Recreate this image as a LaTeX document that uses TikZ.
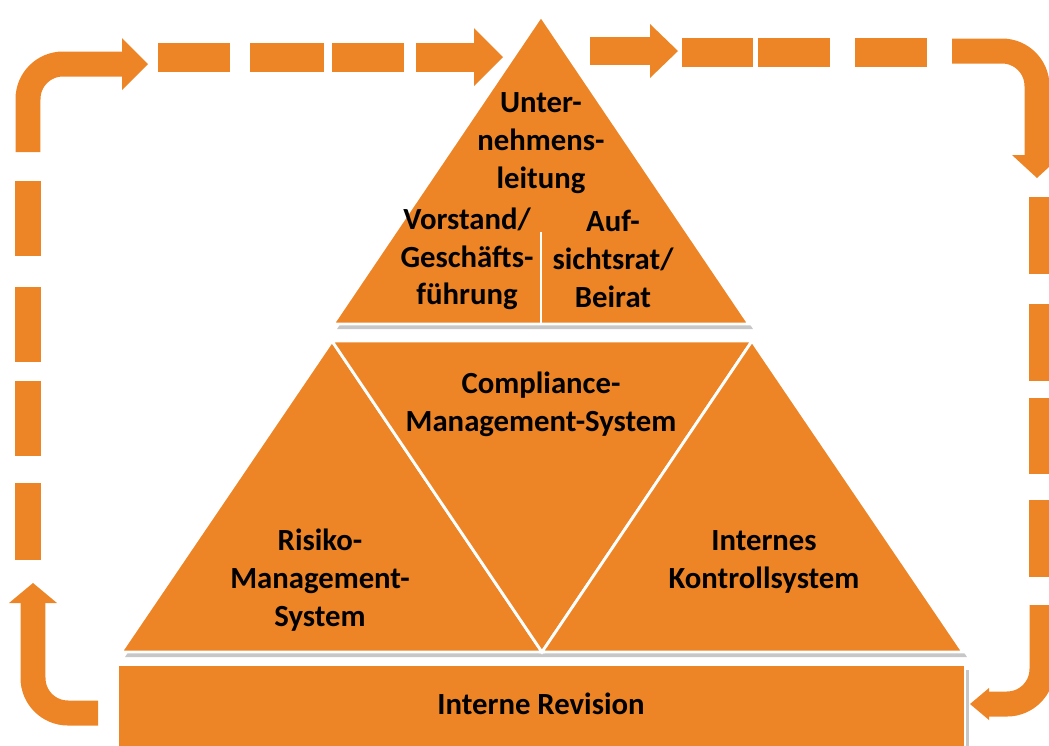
\documentclass[tikz,border=0pt]{standalone}
\usepackage{fontspec}
\setmainfont{Carlito}
\usepackage{tikz}
\usetikzlibrary{positioning}
\definecolor{orangeA}{HTML}{ED8526}

\begin{document}
\begin{tikzpicture}[
    x=0.02cm, y=-0.02cm,
    part/.style={fill=orangeA, draw=white, line width=1.6pt, line join=miter},
    shadow/.style={fill=black!22, draw=none},
    label/.style={font=\bfseries\fontsize{17.5}{21.5}\selectfont, align=center, text=black, inner sep=0pt},
    flow/.style={draw=orangeA, line width=0.5cm, rounded corners=0.7cm},
    tip/.style={fill=orangeA, draw=none}
]
    \useasboundingbox (0,0) rectangle (1049,745);
    \clip (0,0) rectangle (1049,745);

    % shadows
    \begin{scope}[shift={(4,5)}]
        \fill[shadow] (541,16) -- (749,324) -- (333,324) -- cycle;
        \fill[shadow] (332,341) -- (752,341) -- (963,652) -- (121,652) -- cycle;
        \fill[shadow] (118,665) rectangle (965,760);
    \end{scope}

    % pyramid
    \draw[part] (541,16) -- (749,324) -- (333,324) -- cycle;
    \draw[white, line width=1.6pt] (541,232) -- (541,324);
    \draw[part] (121,652) -- (332,341) -- (542,652) -- cycle;
    \draw[part] (332,341) -- (752,341) -- (542,652) -- cycle;
    \draw[part] (542,652) -- (752,341) -- (963,652) -- cycle;
    \draw[part] (118,665) rectangle (965,760);

    \node[label] (leitung) at (541,143) {Unter-\\nehmens-\\leitung};
    \node[label] (vorstand) at (467,259) {Vorstand/\\Geschäfts-\\führung};
    \node[label] (aufsicht) at (613,259) {Auf-\\sichtsrat/\\Beirat};
    \node[label] (cms) at (541,404) {Compliance-\\Management-System};
    \node[label] (rms) at (320,580) {Risiko-\\Management-\\System};
    \node[label] (iks) at (764,562) {Internes\\Kontrollsystem};
    \node[label] (revision) at (541,704) {Interne Revision};

    % cycle: bar -> left -> top -> right -> bar
    \coordinate (bl) at (98,713);
    \draw[flow] (bl) -- (33,713) -- (33,602);
    \fill[tip] (33,583) -- (57,603) -- (9,603) -- cycle;
    \foreach \a/\b in {483/560, 381/456, 287/362, 181/256}
        \fill[orangeA] (15,\a) rectangle (41,\b);

    \draw[flow] (28,152) -- (28,64) -- (122,64);
    \fill[tip] (148,64) -- (122,38) -- (122,90) -- cycle;
    \foreach \a/\b in {158/230, 250/324, 332/404}
        \fill[orangeA] (\a,43) rectangle (\b,72);
    \fill[orangeA] (416,43) rectangle (475,72);
    \fill[tip] (503,57) -- (474,28) -- (474,86) -- cycle;

    \fill[orangeA] (590,37) rectangle (651,65);
    \fill[tip] (678,51) -- (650,24) -- (650,78) -- cycle;
    \foreach \a/\b in {682/753, 758/830, 855/927}
        \fill[orangeA] (\a,38) rectangle (\b,67);

    \draw[flow] (952,51) -- (1037,51) -- (1037,156);
    \fill[tip] (1037,178) -- (1012,155) -- (1062,155) -- cycle;
    \foreach \a/\b in {197/274, 304/381, 398/474, 500/577}
        \fill[orangeA] (1029,\a) rectangle (1055,\b);

    \coordinate (br) at (988,704);
    \draw[flow] (1042,605) -- (1042,704) -- (br);
    \fill[tip] (970,704) -- (989,688) -- (989,720) -- cycle;
\end{tikzpicture}
\end{document}
